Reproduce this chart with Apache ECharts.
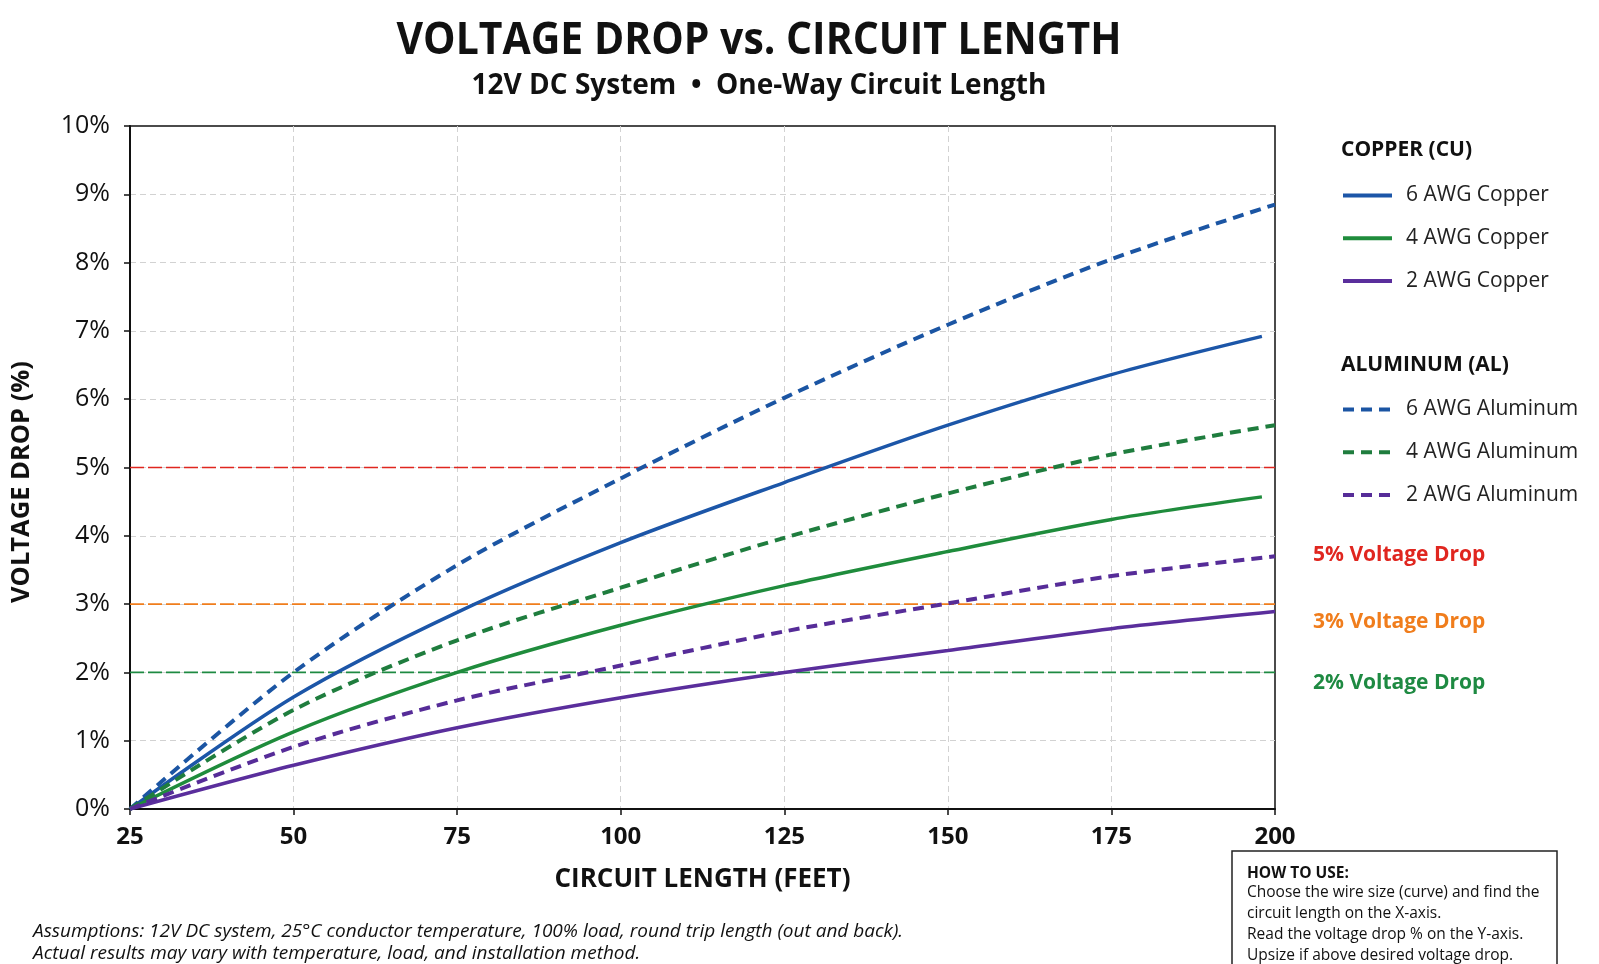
<!DOCTYPE html>
<html>
<head>
<meta charset="utf-8">
<title>Voltage Drop vs. Circuit Length</title>
<script src="https://cdn.jsdelivr.net/npm/echarts@6/dist/echarts.min.js"></script>
<style>
  html, body { margin: 0; padding: 0; background: #fff; }
  #chart { width: 1599px; height: 964px; }
</style>
</head>
<body>
<div id="chart"></div>
<script>
// circuit length (feet) where each curve was read
const lengths = [25, 50, 75, 100, 125, 150, 175, 200];
const copperEnd = 198; // the 6 and 4 AWG copper curves stop a little short of 200

// voltage drop (%)
const cu6 = [0, 1.64, 2.88, 3.9, 4.78, 5.62, 6.36, 6.92];
const cu4 = [0, 1.13, 2.0, 2.69, 3.27, 3.77, 4.24, 4.57];
const cu2 = [0, 0.64, 1.19, 1.63, 2.0, 2.32, 2.64, 2.89];
const al6 = [0, 2.0, 3.57, 4.84, 6.02, 7.09, 8.05, 8.85];
const al4 = [0, 1.45, 2.47, 3.24, 3.97, 4.62, 5.19, 5.62];
const al2 = [0, 0.91, 1.59, 2.1, 2.6, 3.01, 3.41, 3.7];

const thresholds = [5, 3, 2];
const thresholdLabels = ["5% Voltage Drop", "3% Voltage Drop", "2% Voltage Drop"];
const thresholdColors = ["#e0261f", "#f07d1c", "#1e8a42"];

const yTicks = [0, 1, 2, 3, 4, 5, 6, 7, 8, 9, 10];

const BLUE = "#1c56a8";
const GREEN = "#1f8c3c";
const PURPLE = "#5a2e9c";

const chart = echarts.init(document.getElementById("chart"));

const pairs = (vals, lastX) =>
  vals.map((v, i) => [i === vals.length - 1 && lastX ? lastX : lengths[i], v]);

const curve = (name, vals, color, dashed, lastX) => ({
  name: name,
  type: "line",
  data: pairs(vals, lastX),
  smooth: 0.3,
  symbol: "none",
  z: 5,
  lineStyle: {
    color: color,
    width: dashed ? 4 : 3.5,
    type: dashed ? [11, 7] : "solid",
  },
  itemStyle: { color: color },
});

const refLine = (i) => ({
  name: thresholdLabels[i],
  type: "line",
  data: [[lengths[0], thresholds[i]], [lengths[lengths.length - 1], thresholds[i]]],
  symbol: "none",
  silent: true,
  z: 2,
  lineStyle: { color: thresholdColors[i], width: 1.6, type: [14, 4] },
});

const FONT = "Open Sans";

const legendBase = {
  orient: "vertical",
  left: 1341,
  padding: 0,
  itemWidth: 49,
  itemHeight: 14,
  itemGap: 21.8,
  selectedMode: false,
  itemStyle: { opacity: 0 },
  lineStyle: { width: 4 },
  textStyle: { fontFamily: FONT, fontSize: 21, color: "#222", padding: [0, 0, 0, 9] },
};

const option = {
  backgroundColor: "#fff",
  animation: false,
  textStyle: { fontFamily: FONT },
  grid: {
    left: 130,
    right: 324,
    top: 126,
    bottom: 155,
    show: true,
    borderColor: "#111",
    borderWidth: 1.5,
  },
  xAxis: {
    type: "value",
    min: 25,
    max: 200,
    interval: 25,
    name: "CIRCUIT LENGTH (FEET)",
    nameLocation: "middle",
    nameGap: 58,
    nameTextStyle: { fontFamily: FONT, fontSize: 26, fontWeight: "bold", color: "#111" },
    axisLine: { lineStyle: { color: "#111", width: 2 } },
    axisTick: { show: true, length: 6, lineStyle: { color: "#111", width: 1.5 } },
    axisLabel: { fontFamily: FONT, fontSize: 24, fontWeight: "bold", color: "#111", margin: 16 },
    splitLine: { show: true, showMinLine: false, showMaxLine: false, lineStyle: { color: "#d2d2d2", type: [6, 4], width: 1 } },
  },
  yAxis: {
    type: "value",
    min: yTicks[0],
    max: yTicks[yTicks.length - 1],
    interval: 1,
    axisLine: { show: true, lineStyle: { color: "#111", width: 2 } },
    axisTick: { show: true, length: 6, lineStyle: { color: "#111", width: 1.5 } },
    axisLabel: { fontFamily: FONT, fontSize: 25, color: "#111", margin: 20, formatter: "{value}%" },
    splitLine: { show: true, showMinLine: false, showMaxLine: false, lineStyle: { color: "#d2d2d2", type: [6, 4], width: 1 } },
  },
  legend: [
    Object.assign({}, legendBase, {
      data: ["6 AWG Copper", "4 AWG Copper", "2 AWG Copper"],
      top: 185,
    }),
    Object.assign({}, legendBase, {
      data: ["6 AWG Aluminum", "4 AWG Aluminum", "2 AWG Aluminum"],
      top: 399,
    }),
  ],
  series: [
    refLine(0),
    refLine(1),
    refLine(2),
    curve("6 AWG Copper", cu6, BLUE, false, copperEnd),
    curve("4 AWG Copper", cu4, GREEN, false, copperEnd),
    curve("2 AWG Copper", cu2, PURPLE, false),
    curve("6 AWG Aluminum", al6, "#1b55a3", true),
    curve("4 AWG Aluminum", al4, "#1f7d3e", true),
    curve("2 AWG Aluminum", al2, "#562c98", true),
  ],
  graphic: [
    {
      type: "text", x: 759, y: 41, scaleX: 0.93,
      style: { text: "VOLTAGE DROP vs. CIRCUIT LENGTH", font: "bold 44px " + FONT, fill: "#111", textAlign: "center", textVerticalAlign: "middle" },
    },
    {
      type: "text", x: 759, y: 86,
      style: { text: "12V DC System  \u2022  One-Way Circuit Length", font: "bold 28px " + FONT, fill: "#111", textAlign: "center", textVerticalAlign: "middle" },
    },
    {
      type: "text", x: 22, y: 482, rotation: Math.PI / 2,
      style: { text: "VOLTAGE DROP (%)", font: "bold 25.5px " + FONT, fill: "#111", textAlign: "center", textVerticalAlign: "middle" },
    },
    {
      type: "text", x: 1341, y: 150,
      style: { text: "COPPER (CU)", font: "bold 21px " + FONT, fill: "#111", textVerticalAlign: "middle" },
    },
    {
      type: "text", x: 1341, y: 365,
      style: { text: "ALUMINUM (AL)", font: "bold 21px " + FONT, fill: "#111", textVerticalAlign: "middle" },
    },
    ...thresholdLabels.map((t, i) => ({
      type: "text", x: 1313, y: [555, 622, 683][i],
      style: { text: t, font: "bold 21px " + FONT, fill: thresholdColors[i], textVerticalAlign: "middle" },
    })),
    {
      type: "text", x: 33, y: 932,
      style: { text: "Assumptions: 12V DC system, 25\u00b0C conductor temperature, 100% load, round trip length (out and back).", font: "italic 19px " + FONT, fill: "#111", textVerticalAlign: "middle" },
    },
    {
      type: "text", x: 33, y: 954,
      style: { text: "Actual results may vary with temperature, load, and installation method.", font: "italic 19px " + FONT, fill: "#111", textVerticalAlign: "middle" },
    },
    {
      type: "rect",
      shape: { x: 1232, y: 851, width: 325, height: 140 },
      style: { fill: "#fff", stroke: "#222", lineWidth: 1.5 },
    },
    {
      type: "text", x: 1247, y: 874,
      style: { text: "HOW TO USE:", font: "bold 15.5px " + FONT, fill: "#111", textVerticalAlign: "middle" },
    },
    ...[
      "Choose the wire size (curve) and find the",
      "circuit length on the X-axis.",
      "Read the voltage drop % on the Y-axis.",
      "Upsize if above desired voltage drop.",
    ].map((t, i) => ({
      type: "text", x: 1247, y: 893 + i * 20.8,
      style: { text: t, font: "15.5px " + FONT, fill: "#111", textVerticalAlign: "middle" },
    })),
  ],
};

chart.setOption(option);
window.addEventListener("resize", () => chart.resize());
</script>
</body>
</html>
